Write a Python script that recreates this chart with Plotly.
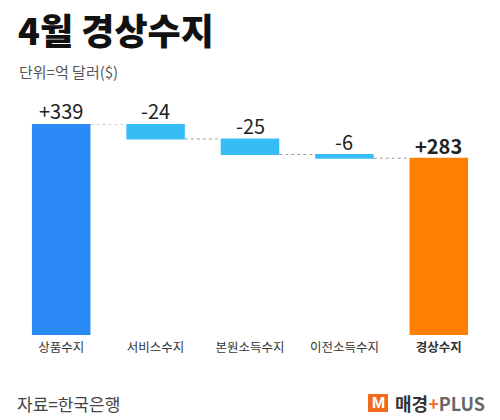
import plotly.graph_objects as go

categories = ["상품수지", "서비스수지", "본원소득수지", "이전소득수지", "경상수지"]
values = [339, -24, -25, -6, 283]
measures = ["relative", "relative", "relative", "relative", "total"]
value_labels = ["+339", "-24", "-25", "-6", "+283"]
tick_labels = ["상품수지", "서비스수지", "본원소득수지", "이전소득수지", "<b>경상수지</b>"]

W, H = 500, 420
L, R, T, B = 14, 14, 124, 85
PW, PH = W - L - R, H - T - B

def px(x):
    return (x - L) / PW

def py(y):
    return (H - B - y) / PH

FONT = "Noto Sans CJK KR"

fig = go.Figure(go.Waterfall(
    x=categories,
    y=values,
    measure=measures,
    increasing=dict(marker=dict(color="#2c8af6")),
    decreasing=dict(marker=dict(color="#36bdf6")),
    totals=dict(marker=dict(color="#ff7f00")),
    connector=dict(mode="between", line=dict(color="#9a9a9a", width=1, dash="3px,3px")),
    hoverinfo="skip",
))

cum = 0
annotations = []
for i, (c, v, m, lab) in enumerate(zip(categories, values, measures, value_labels)):
    if m == "total":
        top = v
    else:
        top = max(cum, cum + v)
        cum += v
    bold = (m == "total")
    annotations.append(dict(
        x=c, y=top, xref="x", yref="y", text=("<b>%s</b>" % lab) if bold else lab,
        showarrow=False, yanchor="bottom", yshift=-3,
        font=dict(family=FONT, size=20, color="#222222"),
    ))

annotations += [
    dict(x=px(16), y=py(29), xref="paper", yref="paper", text="4월 경상수지",
         showarrow=False, xanchor="left", yanchor="middle",
         font=dict(family=FONT, size=36, color="#111111", weight=900)),
    dict(x=px(17), y=py(71), xref="paper", yref="paper", text="단위=억 달러($)",
         showarrow=False, xanchor="left", yanchor="middle",
         font=dict(family=FONT, size=15, color="#555555")),
    dict(x=px(15), y=py(403), xref="paper", yref="paper", text="자료=한국은행",
         showarrow=False, xanchor="left", yanchor="middle",
         font=dict(family=FONT, size=17, color="#444444")),
    dict(x=px(378), y=py(403), xref="paper", yref="paper", text="<b>M</b>",
         showarrow=False, xanchor="center", yanchor="middle",
         font=dict(family="Roboto", size=15, color="#ffffff")),
    dict(x=px(393), y=py(403), xref="paper", yref="paper",
         text="<b>매경</b><b><span style='color:#f26b1d'>+</span></b><b><span style='color:#666666'>PLUS</span></b>",
         showarrow=False, xanchor="left", yanchor="middle",
         font=dict(family=FONT, size=18, color="#333333")),
]

fig.update_layout(
    width=W, height=H,
    margin=dict(l=L, r=R, t=T, b=B),
    paper_bgcolor="white", plot_bgcolor="white",
    showlegend=False,
    waterfallgap=0.38,
    annotations=annotations,
    shapes=[dict(type="rect", xref="paper", yref="paper",
                 x0=px(368), x1=px(388), y0=py(412), y1=py(394),
                 fillcolor="#f26b1d", line=dict(width=0), layer="below")],
    xaxis=dict(showgrid=False, zeroline=False, showline=False,
               tickmode="array", tickvals=categories, ticktext=tick_labels,
               tickfont=dict(family=FONT, size=12.5, color="#333333"), ticklen=0,
               ticklabelstandoff=3),
    yaxis=dict(range=[0, 339], visible=False, showgrid=False, zeroline=False),
)

fig.write_html("out.html")
